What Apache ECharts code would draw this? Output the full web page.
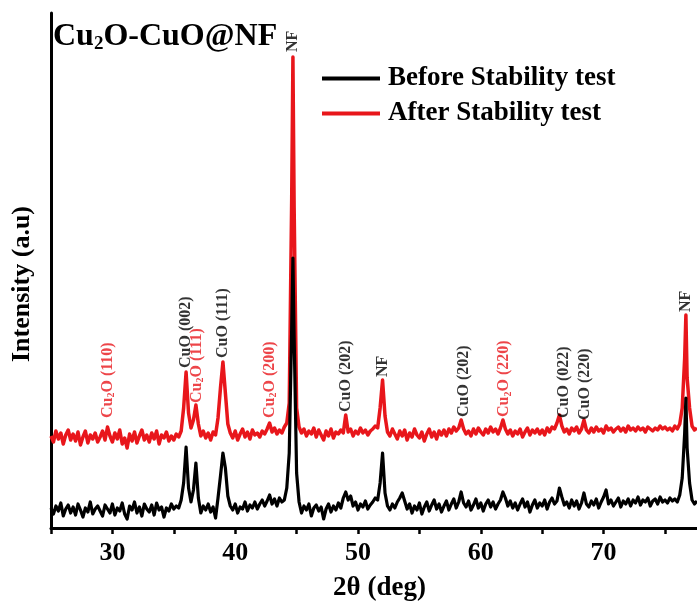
<!DOCTYPE html>
<html><head><meta charset="utf-8">
<script src="https://cdn.jsdelivr.net/npm/echarts@6/dist/echarts.min.js"></script>
<style>html,body{margin:0;padding:0;background:#fff}#c{width:697px;height:603px}</style>
</head><body><div id="c"></div>
<script>
const twoTheta = [
25.0,25.2,25.4,25.6,25.8,26.0,26.2,26.4,26.6,26.8,
27.0,27.2,27.4,27.6,27.8,28.0,28.2,28.4,28.6,28.8,
29.0,29.2,29.4,29.6,29.8,30.0,30.2,30.4,30.6,30.8,
31.0,31.2,31.4,31.6,31.8,32.0,32.2,32.4,32.6,32.8,
33.0,33.2,33.4,33.6,33.8,34.0,34.2,34.4,34.6,34.8,
35.0,35.2,35.4,35.6,35.8,36.0,36.2,36.4,36.6,36.8,
37.0,37.2,37.4,37.6,37.8,38.0,38.2,38.4,38.6,38.8,
39.0,39.2,39.4,39.6,39.8,40.0,40.2,40.4,40.6,40.8,
41.0,41.2,41.4,41.6,41.8,42.0,42.2,42.4,42.6,42.8,
43.0,43.2,43.4,43.6,43.8,44.0,44.2,44.4,44.6,44.7,44.8,
45.0,45.2,45.4,45.6,45.8,46.0,46.2,46.4,46.6,46.8,
47.0,47.2,47.4,47.6,47.8,48.0,48.2,48.4,48.6,48.8,
49.0,49.2,49.4,49.6,49.8,50.0,50.2,50.4,50.6,50.8,
51.0,51.2,51.4,51.6,51.8,52.0,52.2,52.4,52.6,52.8,
53.0,53.2,53.4,53.6,53.8,54.0,54.2,54.4,54.6,54.8,
55.0,55.2,55.4,55.6,55.8,56.0,56.2,56.4,56.6,56.8,
57.0,57.2,57.4,57.6,57.8,58.0,58.2,58.4,58.6,58.8,
59.0,59.2,59.4,59.6,59.8,60.0,60.2,60.4,60.6,60.8,
61.0,61.2,61.4,61.6,61.8,62.0,62.2,62.4,62.6,62.8,
63.0,63.2,63.4,63.6,63.8,64.0,64.2,64.4,64.6,64.8,
65.0,65.2,65.4,65.6,65.8,66.0,66.2,66.4,66.6,66.8,
67.0,67.2,67.4,67.6,67.8,68.0,68.2,68.4,68.6,68.8,
69.0,69.2,69.4,69.6,69.8,70.0,70.2,70.4,70.6,70.8,
71.0,71.2,71.4,71.6,71.8,72.0,72.2,72.4,72.6,72.8,
73.0,73.2,73.4,73.6,73.8,74.0,74.2,74.4,74.6,74.8,
75.0,75.2,75.4,75.6,75.8,76.0,76.2,76.4,76.6,76.7,76.8,
77.0,77.2,77.4,77.6
];
const beforeTest = [
20,14,22,17,25,12,19,23,15,21,
13,24,18,11,20,16,26,14,19,22,
17,12,23,19,15,24,13,20,17,25,
14,9,22,18,26,15,21,12,24,19,
16,23,13,25,18,21,11,20,17,24,
19,22,20,28,45,81,40,26,38,65,
30,15,22,18,24,16,21,10,30,52,
75,60,32,22,18,24,15,21,19,26,
17,23,20,26,19,24,28,22,27,33,
24,29,22,30,26,28,40,75,200,270,190,
55,26,15,22,18,24,12,20,23,17,
21,9,19,24,16,22,18,25,20,30,
36,28,32,22,26,18,24,21,27,19,
23,26,30,28,45,75,35,22,18,24,
20,26,30,35,27,19,24,15,22,18,
25,14,21,26,17,23,28,19,24,16,
22,27,18,24,29,20,26,36,25,21,
27,18,23,29,20,25,17,24,28,21,
26,19,24,28,36,30,22,27,20,25,
18,24,29,21,26,16,23,28,20,25,
22,28,19,26,30,24,27,40,31,23,
26,20,28,22,27,19,25,35,24,21,
27,23,29,20,26,31,38,24,28,22,
26,30,21,27,24,29,22,28,25,31,
23,28,26,30,22,27,29,24,31,26,
28,25,30,27,29,26,33,50,95,130,80,
45,28,24,27
];
const afterTest = [
92,86,97,89,95,84,93,98,88,94,
87,96,83,91,97,85,93,89,95,86,
91,97,88,101,92,86,95,89,98,84,
90,80,94,87,96,85,92,98,88,93,
86,95,89,97,84,93,90,96,87,92,
88,94,91,97,120,156,115,100,108,123,
104,92,97,90,95,88,96,93,110,140,
166,135,104,95,90,97,88,94,99,91,
96,89,98,93,95,91,97,94,99,105,
96,100,94,98,95,101,105,125,330,471,320,
120,101,95,99,92,97,94,100,91,98,
93,88,97,92,99,90,96,94,98,95,
113,96,99,92,97,94,100,95,98,93,
97,99,102,100,120,148,112,96,92,99,
94,89,97,92,98,88,95,91,99,93,
90,96,87,94,99,91,96,89,97,93,
98,92,99,95,101,97,100,108,99,94,
97,92,99,94,100,96,93,99,95,101,
96,99,94,100,108,99,94,98,92,97,
94,99,91,96,100,93,98,95,99,94,
98,93,100,96,101,99,105,113,102,96,
99,94,100,97,101,95,99,108,98,95,
100,96,101,97,99,95,102,98,100,96,
99,101,97,100,96,102,98,100,97,101,
98,100,96,101,99,97,100,98,102,99,
101,98,100,97,102,99,104,120,170,213,150,
120,102,98,100
];
const xTickLabels = [30, 40, 50, 60, 70];
const annX = [29.6, 36.0, 36.85, 39.0, 42.8, 44.7, 49.05, 52.0, 58.65, 61.9, 66.75, 68.45, 76.7];
const annY = [110, 160, 125, 170, 110, 476, 116, 151, 111, 111, 110, 108, 216];
const annText = ['Cu2O (110)', 'CuO (002)', 'Cu2O (111)', 'CuO (111)', 'Cu2O (200)', 'NF', 'CuO (202)', 'NF', 'CuO (202)', 'Cu2O (220)', 'CuO (022)', 'CuO (220)', 'NF'];
const annColor = ['red', 'black', 'red', 'black', 'red', 'black', 'black', 'black', 'black', 'red', 'black', 'black', 'black'];

const FONT = '"Liberation Serif","Times New Roman",serif';
const RED = '#e8161b';
const chart = echarts.init(document.getElementById('c'));
const zip = (a, b) => a.map((v, i) => [v, b[i]]);

chart.setOption({
  animation: false,
  backgroundColor: '#fff',
  title: {
    text: '{a|Cu}{b|2}{a|O-CuO@NF}',
    left: 53, top: 20, padding: 0,
    textStyle: {
      rich: {
        a: {fontSize: 32, fontWeight: 'bold', fontFamily: FONT, color: '#000', lineHeight: 34},
        b: {fontSize: 19, fontWeight: 'bold', fontFamily: FONT, color: '#000', verticalAlign: 'bottom', lineHeight: 10, padding: [32, 0, 0, 0]}
      }
    }
  },
  legend: {
    data: ['Before Stability test', 'After Stability test'],
    orient: 'vertical', left: 322, top: 65, padding: 0,
    icon: 'rect', itemWidth: 58, itemHeight: 4, itemGap: 8,
    textStyle: {fontFamily: FONT, fontWeight: 'bold', fontSize: 27, color: '#000', lineHeight: 27, padding: [0, 0, 0, 3]}
  },
  grid: {left: 51, right: -11, top: 13, bottom: 75, outerBoundsMode: 'none', containLabel: false},
  xAxis: {
    type: 'value', min: 25, max: 78.5, interval: 5,
    axisLine: {lineStyle: {color: '#000', width: 3}},
    axisTick: {length: 6, lineStyle: {color: '#000', width: 2.5}},
    splitLine: {show: false},
    axisLabel: {
      formatter: v => xTickLabels.includes(v) ? String(v) : '',
      fontSize: 26, fontWeight: 'bold', fontFamily: FONT, color: '#000', margin: 12
    },
    name: '2θ (deg)', nameLocation: 'middle', nameGap: 47,
    nameTextStyle: {fontSize: 27, fontWeight: 'bold', fontFamily: FONT, color: '#000'}
  },
  yAxis: {
    type: 'value', min: 0, max: 515,
    axisLine: {show: true, lineStyle: {color: '#000', width: 3}},
    axisTick: {show: false}, axisLabel: {show: false}, splitLine: {show: false}
  },
  graphic: [{
    type: 'text', x: 22, y: 284, rotation: Math.PI / 2,
    style: {text: 'Intensity (a.u)', font: 'bold 26px ' + FONT, fill: '#000', align: 'center', verticalAlign: 'middle', textAlign: 'center', textVerticalAlign: 'middle'}
  }],
  series: [
    {
      name: 'Before Stability test', type: 'line', data: zip(twoTheta, beforeTest),
      symbol: 'none', showSymbol: false, z: 3,
      lineStyle: {color: '#000', width: 3.2, join: 'round'}, itemStyle: {color: '#000'}
    },
    {
      name: 'After Stability test', type: 'line', data: zip(twoTheta, afterTest),
      symbol: 'none', showSymbol: false, z: 2,
      lineStyle: {color: RED, width: 3.5, join: 'round'}, itemStyle: {color: RED}
    },
    {
      type: 'scatter', silent: true, z: 5,
      symbolSize: 1,
      itemStyle: {color: 'rgba(0,0,0,0)'},
      data: annX.map((x, i) => ({
        value: [x, annY[i]],
        label: {color: annColor[i] === 'red' ? RED : '#000'}
      })),
      label: {
        show: true, position: 'inside', rotate: 90, align: 'left', verticalAlign: 'middle',
        fontFamily: FONT, fontWeight: 'bold', fontSize: 16,
        formatter: p => {
          const t = annText[p.dataIndex];
          if (t.startsWith('Cu2O')) return '{n|Cu}{s|2}{n|' + t.slice(3) + '}';
          return '{n|' + t + '}';
        },
        rich: {
          n: {fontFamily: FONT, fontWeight: 'bold', fontSize: 16},
          s: {fontFamily: FONT, fontWeight: 'bold', fontSize: 10, verticalAlign: 'bottom', padding: [8, 0, 0, 0]}
        }
      }
    }
  ]
});
</script>
</body></html>
